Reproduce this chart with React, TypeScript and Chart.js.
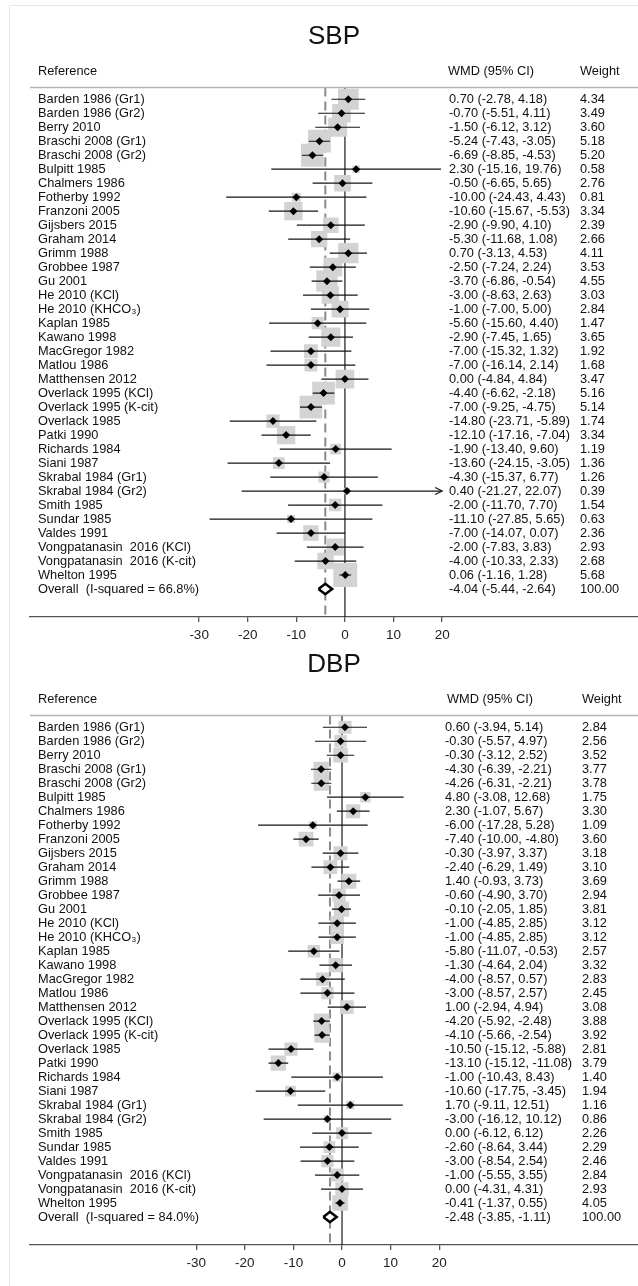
import React, { useEffect, useRef } from "react";
import { Chart, registerables } from "chart.js";

Chart.register(...registerables);

const FONT = '"Liberation Sans", Arial, Helvetica, sans-serif';

// ---- data ----
const studies = [
  "Barden 1986 (Gr1)",
  "Barden 1986 (Gr2)",
  "Berry 2010",
  "Braschi 2008 (Gr1)",
  "Braschi 2008 (Gr2)",
  "Bulpitt 1985",
  "Chalmers 1986",
  "Fotherby 1992",
  "Franzoni 2005",
  "Gijsbers 2015",
  "Graham 2014",
  "Grimm 1988",
  "Grobbee 1987",
  "Gu 2001",
  "He 2010 (KCl)",
  "He 2010 (KHCO\u2083)",
  "Kaplan 1985",
  "Kawano 1998",
  "MacGregor 1982",
  "Matlou 1986",
  "Matthensen 2012",
  "Overlack 1995 (KCl)",
  "Overlack 1995 (K-cit)",
  "Overlack 1985",
  "Patki 1990",
  "Richards 1984",
  "Siani 1987",
  "Skrabal 1984 (Gr1)",
  "Skrabal 1984 (Gr2)",
  "Smith 1985",
  "Sundar 1985",
  "Valdes 1991",
  "Vongpatanasin  2016 (KCl)",
  "Vongpatanasin  2016 (K-cit)",
  "Whelton 1995",
];

const sbpEst = [0.7, -0.7, -1.5, -5.24, -6.69, 2.3, -0.5, -10.0, -10.6, -2.9, -5.3, 0.7, -2.5, -3.7, -3.0, -1.0, -5.6, -2.9, -7.0, -7.0, 0.0, -4.4, -7.0, -14.8, -12.1, -1.9, -13.6, -4.3, 0.4, -2.0, -11.1, -7.0, -2.0, -4.0, 0.06];
const sbpLo = [-2.78, -5.51, -6.12, -7.43, -8.85, -15.16, -6.65, -24.43, -15.67, -9.9, -11.68, -3.13, -7.24, -6.86, -8.63, -7.0, -15.6, -7.45, -15.32, -16.14, -4.84, -6.62, -9.25, -23.71, -17.16, -13.4, -24.15, -15.37, -21.27, -11.7, -27.85, -14.07, -7.83, -10.33, -1.16];
const sbpHi = [4.18, 4.11, 3.12, -3.05, -4.53, 19.76, 5.65, 4.43, -5.53, 4.1, 1.08, 4.53, 2.24, -0.54, 2.63, 5.0, 4.4, 1.65, 1.32, 2.14, 4.84, -2.18, -4.75, -5.89, -7.04, 9.6, -3.05, 6.77, 22.07, 7.7, 5.65, 0.07, 3.83, 2.33, 1.28];
const sbpWeight = [4.34, 3.49, 3.6, 5.18, 5.2, 0.58, 2.76, 0.81, 3.34, 2.39, 2.66, 4.11, 3.53, 4.55, 3.03, 2.84, 1.47, 3.65, 1.92, 1.68, 3.47, 5.16, 5.14, 1.74, 3.34, 1.19, 1.36, 1.26, 0.39, 1.54, 0.63, 2.36, 2.93, 2.68, 5.68];
const sbpOverall = [-4.04, -5.44, -2.64, 100.0];
const sbpI2 = "66.8%";

const dbpEst = [0.6, -0.3, -0.3, -4.3, -4.26, 4.8, 2.3, -6.0, -7.4, -0.3, -2.4, 1.4, -0.6, -0.1, -1.0, -1.0, -5.8, -1.3, -4.0, -3.0, 1.0, -4.2, -4.1, -10.5, -13.1, -1.0, -10.6, 1.7, -3.0, 0.0, -2.6, -3.0, -1.0, 0.0, -0.41];
const dbpLo = [-3.94, -5.57, -3.12, -6.39, -6.31, -3.08, -1.07, -17.28, -10.0, -3.97, -6.29, -0.93, -4.9, -2.05, -4.85, -4.85, -11.07, -4.64, -8.57, -8.57, -2.94, -5.92, -5.66, -15.12, -15.12, -10.43, -17.75, -9.11, -16.12, -6.12, -8.64, -8.54, -5.55, -4.31, -1.37];
const dbpHi = [5.14, 4.97, 2.52, -2.21, -2.21, 12.68, 5.67, 5.28, -4.8, 3.37, 1.49, 3.73, 3.7, 1.85, 2.85, 2.85, -0.53, 2.04, 0.57, 2.57, 4.94, -2.48, -2.54, -5.88, -11.08, 8.43, -3.45, 12.51, 10.12, 6.12, 3.44, 2.54, 3.55, 4.31, 0.55];
const dbpWeight = [2.84, 2.56, 3.52, 3.77, 3.78, 1.75, 3.3, 1.09, 3.6, 3.18, 3.1, 3.69, 2.94, 3.81, 3.12, 3.12, 2.57, 3.32, 2.83, 2.45, 3.08, 3.88, 3.92, 2.81, 3.79, 1.4, 1.94, 1.16, 0.86, 2.26, 2.29, 2.46, 2.84, 2.93, 4.05];
const dbpOverall = [-2.48, -3.85, -1.11, 100.0];
const dbpI2 = "84.0%";

const xTicks = [-30, -20, -10, 0, 10, 20];
const headers = ["Reference", "WMD (95% CI)", "Weight"];

type PanelSpec = {
  title: string;
  est: number[];
  lo: number[];
  hi: number[];
  weight: number[];
  overall: number[];
  i2: string;
  top: number;
  height: number;
  titlePad: { top: number; bottom: number };
  padBottom: number;
  xMin: number;
  xMax: number;
  boxK: number;
  ciX: number;
  wX: number;
  hCiX: number;
  hWX: number;
};

const Y_MIN = -0.84;
const Y_MAX = 37;

const fmt = (v: number) => v.toFixed(2);

function makeConfig(p: PanelSpec): any {
  const n = studies.length;
  const clipLo = xTicks[0];
  const clipHi = xTicks[xTicks.length - 1];
  const datasets: any[] = [];

  datasets.push({
    type: "line",
    data: [
      { x: 0, y: Y_MIN },
      { x: 0, y: Y_MAX },
    ],
    borderColor: "#1a1a1a",
    borderWidth: 1.2,
    pointRadius: 0,
    fill: false,
    order: 10,
  });
  datasets.push({
    type: "line",
    data: [
      { x: p.overall[0], y: Y_MIN },
      { x: p.overall[0], y: Y_MAX },
    ],
    borderColor: "#8a8a8a",
    borderWidth: 2,
    borderDash: [9, 5],
    pointRadius: 0,
    fill: false,
    order: 9,
  });
  datasets.push({
    type: "scatter",
    data: p.est.map((e, i) => ({ x: e, y: i })),
    pointStyle: "rect",
    pointRadius: p.weight.map((w) => (p.boxK * Math.sqrt(w)) / Math.SQRT2),
    backgroundColor: "#d3d3d3",
    borderWidth: 0,
    order: 8,
  });
  p.est.forEach((_e, i) => {
    datasets.push({
      type: "line",
      data: [
        { x: Math.max(p.lo[i], clipLo), y: i },
        { x: Math.min(p.hi[i], clipHi), y: i },
      ],
      borderColor: "#151515",
      borderWidth: 1.2,
      pointRadius: 0,
      fill: false,
      order: 5,
    });
  });
  datasets.push({
    type: "scatter",
    data: p.est.map((e, i) => ({ x: e, y: i })),
    pointStyle: "rectRot",
    pointRadius: 4,
    backgroundColor: "#000",
    borderWidth: 0,
    order: 2,
  });
  const h = 0.37;
  datasets.push({
    type: "line",
    data: [
      { x: p.overall[1], y: n },
      { x: p.overall[0], y: n - h },
      { x: p.overall[2], y: n },
      { x: p.overall[0], y: n + h },
      { x: p.overall[1], y: n },
    ],
    borderColor: "#000",
    borderWidth: 2.6,
    borderJoinStyle: "miter",
    backgroundColor: "#ffffff",
    fill: "shape",
    pointRadius: 0,
    order: 1,
  });

  const textPlugin = {
    id: "forestText",
    afterDraw(chart: any) {
      const { ctx, chartArea, scales } = chart;
      const ys = scales.y;
      const xs = scales.x;
      ctx.save();
      // header line
      ctx.strokeStyle = "#b4b4b4";
      ctx.lineWidth = 1.5;
      ctx.beginPath();
      ctx.moveTo(chartArea.left, chartArea.top);
      ctx.lineTo(chartArea.right, chartArea.top);
      ctx.stroke();

      ctx.fillStyle = "#111";
      ctx.font = `12.8px ${FONT}`;
      ctx.textBaseline = "middle";
      ctx.textAlign = "left";
      const hy = chartArea.top - 16;
      ctx.fillText(headers[0], 38, hy);
      ctx.fillText(headers[1], p.hCiX, hy);
      ctx.fillText(headers[2], p.hWX, hy);

      studies.forEach((name, i) => {
        const y = ys.getPixelForValue(i);
        ctx.fillText(name, 38, y);
        ctx.fillText(`${fmt(p.est[i])} (${fmt(p.lo[i])}, ${fmt(p.hi[i])})`, p.ciX, y);
        ctx.fillText(fmt(p.weight[i]), p.wX, y);
      });
      const oy = ys.getPixelForValue(n);
      ctx.fillText(`Overall  (I-squared = ${p.i2})`, 38, oy);
      ctx.fillText(`${fmt(p.overall[0])} (${fmt(p.overall[1])}, ${fmt(p.overall[2])})`, p.ciX, oy);
      ctx.fillText(fmt(p.overall[3]), p.wX, oy);

      // arrows for clipped intervals
      ctx.strokeStyle = "#151515";
      ctx.lineWidth = 1.2;
      p.est.forEach((_e, i) => {
        const y = ys.getPixelForValue(i);
        if (p.hi[i] > clipHi) {
          const px = xs.getPixelForValue(clipHi);
          ctx.beginPath();
          ctx.moveTo(px - 7, y - 3.5);
          ctx.lineTo(px, y);
          ctx.lineTo(px - 7, y + 3.5);
          ctx.stroke();
        }
        if (p.lo[i] < clipLo) {
          const px = xs.getPixelForValue(clipLo);
          ctx.beginPath();
          ctx.moveTo(px + 7, y - 3.5);
          ctx.lineTo(px, y);
          ctx.lineTo(px + 7, y + 3.5);
          ctx.stroke();
        }
      });
      ctx.restore();
    },
  };

  return {
    type: "scatter",
    data: { datasets },
    plugins: [textPlugin],
    options: {
      animation: false,
      responsive: false,
      events: [],
      layout: {
        autoPadding: false,
        padding: { left: 30, right: 0, top: 0, bottom: p.padBottom },
      },
      plugins: {
        legend: { display: false },
        tooltip: { enabled: false },
        title: {
          display: true,
          text: p.title,
          color: "#111",
          font: { family: FONT, size: 26, weight: "normal", lineHeight: 1.2 },
          padding: p.titlePad,
        },
      },
      scales: {
        x: {
          type: "linear",
          position: "bottom",
          min: p.xMin,
          max: p.xMax,
          afterBuildTicks: (s: any) => {
            s.ticks = xTicks.map((v) => ({ value: v }));
          },
          afterFit: (s: any) => {
            s.height = 29;
          },
          grid: {
            drawOnChartArea: false,
            drawTicks: true,
            tickLength: 5,
            color: "#555",
            lineWidth: 1.3,
          },
          border: { display: true, color: "#555", width: 1.3 },
          ticks: {
            color: "#222",
            padding: 5,
            maxRotation: 0,
            autoSkip: false,
            font: { family: FONT, size: 13.5 },
            callback: (v: any) => String(v),
          },
        },
        y: {
          type: "linear",
          display: false,
          reverse: true,
          min: Y_MIN,
          max: Y_MAX,
        },
      },
    },
  };
}

const panels: PanelSpec[] = [
  {
    title: "SBP",
    est: sbpEst,
    lo: sbpLo,
    hi: sbpHi,
    weight: sbpWeight,
    overall: sbpOverall,
    i2: sbpI2,
    top: 0,
    height: 646,
    titlePad: { top: 21, bottom: 35.3 },
    padBottom: 0,
    xMin: -64.8,
    xMax: 60.3,
    boxK: 10,
    ciX: 449,
    wX: 580,
    hCiX: 448,
    hWX: 580,
  },
  {
    title: "DBP",
    est: dbpEst,
    lo: dbpLo,
    hi: dbpHi,
    weight: dbpWeight,
    overall: dbpOverall,
    i2: dbpI2,
    top: 646,
    height: 640,
    titlePad: { top: 3.4, bottom: 34.9 },
    padBottom: 12,
    xMin: -64.2,
    xMax: 60.9,
    boxK: 7.8,
    ciX: 445,
    wX: 582,
    hCiX: 447,
    hWX: 582,
  },
];

function Panel({ spec }: { spec: PanelSpec }) {
  const ref = useRef<HTMLCanvasElement | null>(null);
  useEffect(() => {
    if (!ref.current) return;
    const chart = new Chart(ref.current, makeConfig(spec));
    return () => chart.destroy();
  }, [spec]);
  return (
    <canvas
      ref={ref}
      width={638}
      height={spec.height}
      style={{ position: "absolute", left: 0, top: spec.top, width: 638, height: spec.height }}
    />
  );
}

export default function App() {
  return (
    <div
      style={{
        position: "absolute",
        left: 0,
        top: 0,
        width: 638,
        height: 1286,
        background: "#fff",
        overflow: "hidden",
      }}
    >
      <div
        style={{
          position: "absolute",
          left: 9,
          top: 5,
          width: 640,
          height: 1290,
          borderTop: "1px solid #e6e6e6",
          borderLeft: "1px solid #e6e6e6",
        }}
      />
      {panels.map((p) => (
        <Panel key={p.title} spec={p} />
      ))}
    </div>
  );
}
